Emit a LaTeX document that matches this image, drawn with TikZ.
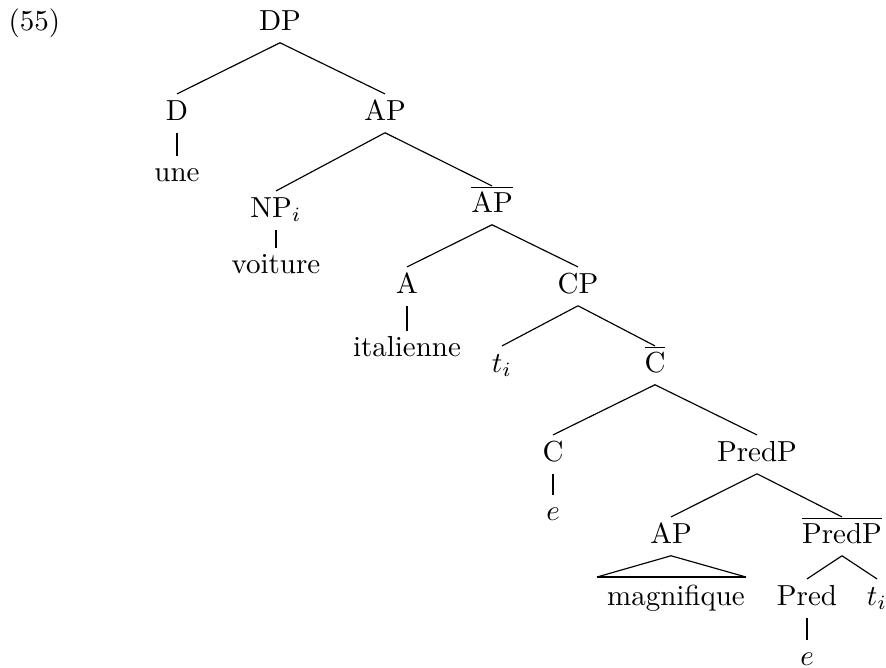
\documentclass[tikz,border=0pt]{standalone}
\usepackage{tikz}

\begin{document}
\begin{tikzpicture}[x=0.345pt,y=-0.345pt,line width=0.4pt,
      cat/.style={anchor=base,inner sep=0pt,text height=8.8pt,text depth=4.2pt},
      word/.style={anchor=base,inner sep=0pt,text height=8.6pt,text depth=0pt},
      bar/.style={line width=0.8pt}]
    \useasboundingbox (0,0) rectangle (886,667);

    \node[anchor=base west,inner sep=0pt] (num) at (8,30) {(55)};

    \node[cat] (dp) at (280,30) {DP};
    \node[cat] (d) at (177,120) {D};
    \node[cat] (ap1) at (385,120) {AP};
    \node[word] (une) at (177,181) {une};
    \node[cat] (np) at (276,217) {NP$_i$};
    \node[word] (voit) at (276,273) {voiture};
    \node[cat] (apbar) at (492,212) {$\overline{\mbox{AP}}$};
    \node[cat] (a) at (407,293) {A};
    \node[word] (ital) at (407,356) {italienne};
    \node[cat] (cp) at (578,293) {CP};
    \node[cat] (t1) at (502,372) {$t_i$};
    \node[cat] (cbar) at (655,372) {$\overline{\mbox{C}}$};
    \node[cat] (c) at (553,461) {C};
    \node[word] (e1) at (553,520) {$e$};
    \node[cat] (predp) at (757,461) {PredP};
    \node[cat] (ap2) at (671,543) {AP};
    \node[cat] (predpbar) at (842,543) {$\overline{\mbox{PredP}}$};
    \node[word] (magn) at (676,605) {magnifique};
    \node[cat] (pred) at (807,605) {Pred};
    \node[cat] (t2) at (877,605) {$t_i$};
    \node[word] (e2) at (807,665) {$e$};

    \coordinate (tril) at (597,577);
    \coordinate (trir) at (746,577);

    % branches
    \path (dp.south) edge (d.north) edge (ap1.north);
    \path (ap1.south) edge (np.north) edge (apbar.north);
    \path (apbar.south) edge (a.north) edge (cp.north);
    \path (cp.south) edge (t1.north) edge (cbar.north);
    \path (cbar.south) edge (c.north) edge (predp.north);
    \path (predp.south) edge (ap2.north) edge (predpbar.north);
    \path (predpbar.south) edge (pred.north) edge (t2.north);

    % unary lines
    \draw[bar] (d.south) -- (une.north);
    \draw[bar] (np.south) -- (voit.north);
    \draw[bar] (a.south) -- (ital.north);
    \draw[bar] (c.south) -- (e1.north);
    \draw[bar] (pred.south) -- (e2.north);

    % triangle
    \draw (tril) -- (ap2.south) -- (trir);
    \draw[bar] (tril) -- (trir);

\end{tikzpicture}
\end{document}
